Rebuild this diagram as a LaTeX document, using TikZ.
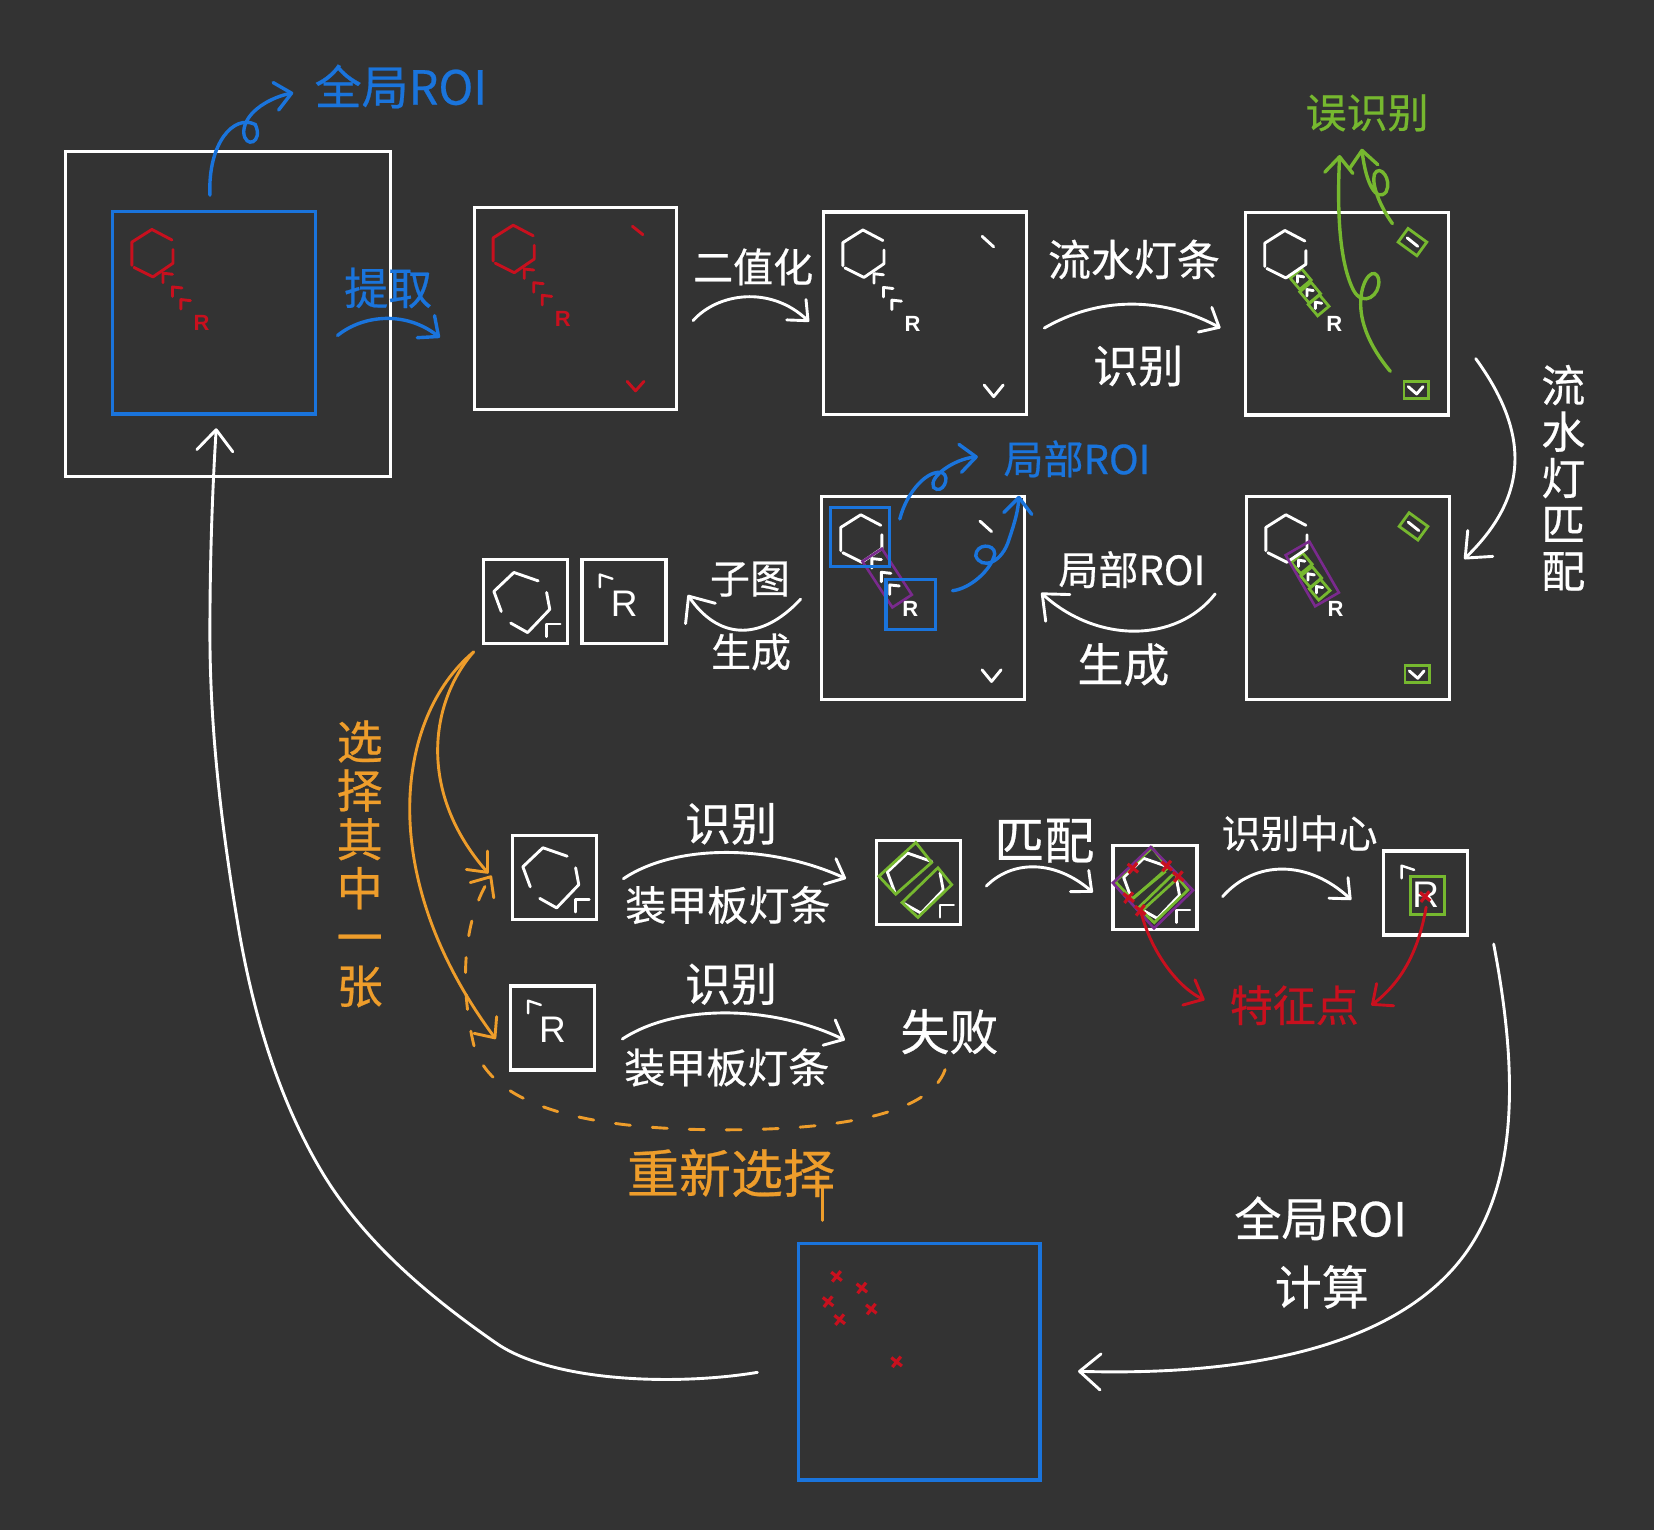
\documentclass[tikz,border=0pt]{standalone}
\usepackage{fontspec}
\setmainfont{Noto Sans CJK SC}[FakeBold=0.5]
\newfontfamily\rfont{Liberation Sans}
\usetikzlibrary{arrows.meta}
\definecolor{bgdark}{HTML}{333333}
\definecolor{roiblue}{HTML}{1A74DC}
\definecolor{hitred}{HTML}{C8101E}
\definecolor{lampgreen}{HTML}{76B82F}
\definecolor{pickorange}{HTML}{EE9D2B}
\definecolor{matchpurple}{HTML}{7A2A8E}
\tikzset{
    main/.style = {draw, inner sep=0pt, outer sep=0pt, line width=3.2pt},
    bigbox/.style = {main, minimum size=202.5pt},
    subbox/.style = {main, minimum size=84pt},
    roibox/.style = {main, draw=roiblue},
    han/.style = {font=\fontsize{#1}{#1}\selectfont, inner sep=0pt},
    curve/.style = {line width=2.9pt, line cap=round, ->},
    bigtip/.style = {>={Straight Barb[length=21pt, width=36pt, round]}},
    lamp/.style = {draw=lampgreen, line width=2.8pt},
    stroke/.style = {line width=2.9pt, line cap=round, line join=round},
    rbold/.style = {font=\rfont\bfseries\fontsize{22}{22}\selectfont, inner sep=0pt},
    rthin/.style = {font=\rfont\fontsize{37}{37}\selectfont, inner sep=0pt},
}
\newcommand{\hexa}[3]{
    \begin{scope}[shift={(#1.north west)}, #2, stroke]
        \draw[stroke] (56,27) -- (37,17) -- (18,29) -- (18,51);
        \draw[stroke] (20,53) -- (38,62) -- (57,49) -- (57,36);
        \foreach \cx/\cy in {52/63, 61/76, 69/88}
            \draw[stroke] (\cx-#3,\cy+#3) -- (\cx-#3,\cy-#3) -- (\cx+#3,\cy-#3+1);
        \node[rbold] (#1r) at (84,106) {R};
    \end{scope}
}
\newcommand{\tails}[2]{
    \begin{scope}[shift={(#1.north west)}, #2]
        \draw[stroke] (150,23) -- (161,33);
        \draw[stroke] (152,164) -- (161,175) -- (170,164);
    \end{scope}
}
\newcommand{\lamps}[1]{
    \begin{scope}[shift={(#1.north west)}]
        \foreach \cx/\cy in {52/63, 61/76, 69/88}
            \draw[lamp, rotate around={-50:(\cx,\cy)}] (\cx-7,\cy-7) rectangle (\cx+7,\cy+7);
    \end{scope}
}
\newcommand{\farlamps}[1]{
    \begin{scope}[shift={(#1.north west)}]
        \draw[lamp, rotate around={-36:(158,28)}] (147,20) rectangle (169,36);
        \draw[stroke, white] (153,24) -- (163,32);
        \draw[lamp] (150,160) rectangle (173,176);
        \draw[stroke, white] (154,165) -- (162,172) -- (168,165);
    \end{scope}
}
\newcommand{\subhex}[1]{
    \begin{scope}[shift={(#1.north west)}]
        \draw[stroke] (17,49) -- (10,30) -- (29,12) -- (52,20);
        \draw[stroke] (60,31) -- (63,47) -- (42,69) -- (26,60);
        \draw[stroke, line width=2.4pt] (60,73) -- (60,61) -- (73,61);
    \end{scope}
}
\newcommand{\subr}[1]{
    \begin{scope}[shift={(#1.north west)}]
        \draw[stroke, line width=2.4pt] (17,26) -- (17,14) -- (29,18);
        \node[rthin] (#1r) at (40,42) {R};
    \end{scope}
}
\newcommand{\subgreen}[1]{
    \begin{scope}[shift={(#1.north west)}]
        \draw[lamp] (37,2) -- (52,21) -- (18,51) -- (2,34) -- cycle;
        \draw[lamp] (58,26) -- (71,42) -- (39,73) -- (24,59) -- cycle;
    \end{scope}
}
\newcommand{\crossmark}[2]{
    \draw[hitred, line width=3.2pt] (#1-5,#2-4) -- (#1+5,#2+4) (#1+4,#2-5) -- (#1-4,#2+5);
}
\begin{document}
\begin{tikzpicture}[x=1.0548pt, y=-1.0548pt, color=white, >={Straight Barb[length=16pt, width=28pt, round]}]
    \useasboundingbox[fill=bgdark] (0,0) rectangle (1568,1450.5);
    \node[main, minimum size=325pt] (glob) at (216,298) {};
    \node[roibox, minimum size=202.5pt] (globroi) at (203,296.5) {};
    \node[bigbox] (orig) at (545.5,292.5) {};
    \node[bigbox] (bin) at (877,297) {};
    \node[bigbox] (detect) at (1277,297.5) {};
    \node[bigbox] (match) at (1278,567) {};
    \node[bigbox] (local) at (875,567) {};
    \node[subbox] (subhexa) at (498,570.5) {};
    \node[subbox] (subr) at (591.5,570.5) {};
    \node[subbox] (ahexa) at (525.5,831.5) {};
    \node[subbox] (aplate) at (871,836.5) {};
    \node[subbox] (apts) at (1095,841.5) {};
    \node[subbox] (acenter) at (1351.5,846.5) {};
    \node[subbox] (rtry) at (523.5,974.5) {};
    \node[roibox, minimum width=241.5pt, minimum height=236.3pt] (result) at (871.5,1291) {};

    \hexa{globroi}{hitred}{4.5}
    \hexa{orig}{hitred}{4.5}
    \begin{scope}[shift={(orig.north west)}, hitred]
        \draw[stroke] (150,18) -- (160,26);
        \draw[stroke] (145,165) -- (153,174) -- (161,165);
    \end{scope}
    \hexa{bin}{white}{4.5}
    \tails{bin}{white}
    \lamps{detect}
    \hexa{detect}{white}{3}
    \farlamps{detect}
    \lamps{match}
    \hexa{match}{white}{3}
    \farlamps{match}
    \begin{scope}[shift={(match.north west)}]
        \draw[draw=matchpurple, line width=2.6pt, rotate around={-60:(62,73)}] (34,60) rectangle (90,86);
    \end{scope}
    \hexa{local}{white}{4.5}
    \tails{local}{white}
    \begin{scope}[shift={(local.north west)}]
        \draw[draw=matchpurple, line width=2.6pt, rotate around={-57:(62,77)}] (36,66) rectangle (88,88);
    \end{scope}
    \draw[draw=roiblue, line width=3.2pt] (787,481) rectangle (843,537);
    \draw[draw=roiblue, line width=3.2pt] (840,549) rectangle (887,597);

    \subhex{subhexa}
    \subr{subr}
    \subhex{ahexa}
    \subhex{aplate}
    \subgreen{aplate}
    \subhex{apts}
    \subgreen{apts}
    \subr{acenter}
    \subr{rtry}
    \draw[draw=matchpurple, line width=2.6pt] (1091,803) -- (1131,844) -- (1094,880) -- (1055,837) -- cycle;
    \draw[lamp] (1105,826) -- (1072,853);
    \draw[lamp] (1117,832) -- (1083,863);
    \draw[lamp] (1337,831) rectangle (1369,867);
    \foreach \px/\py in {1074/823, 1106/821, 1117/831, 1070/851, 1081/863, 1351/850, 793/1210, 817/1221, 785/1234, 826/1241, 796/1251, 850/1291}
        {\crossmark{\px}{\py}}

    \node[han=47, roiblue] (tglob) at (380,82) {全局ROI};
    \node[han=44, roiblue] (textract) at (368,273) {提取};
    \node[han=40] (tbin) at (714,253) {二值化};
    \node[han=43] (tflow) at (1075,246) {流水灯条};
    \node[han=45] (tdet) at (1079,347) {识别};
    \node[han=41, lampgreen] (twrong) at (1296,107) {误识别};
    \node[font=\fontsize{44}{46.4}\selectfont, inner sep=0pt, align=center] (tmatchv) at (1482,453) {流\\水\\灯\\匹\\配};
    \node[han=40, roiblue] (tlocal) at (1021,435) {局部ROI};
    \node[han=40] (tlocalb) at (1073,540) {局部ROI};
    \node[han=46] (tgen) at (1065,630) {生成};
    \node[han=40] (tsub) at (711,549) {子图};
    \node[han=40] (tgenb) at (712,618) {生成};
    \node[font=\fontsize{46}{48.9}\selectfont, inner sep=0pt, align=center, pickorange] (tpick) at (341,819) {选\\择\\其\\中\\一\\张};
    \node[han=46] (tdeta) at (693,781) {识别};
    \node[han=41] (tarma) at (690,858) {装甲板灯条};
    \node[han=46] (tdetb) at (693,933) {识别};
    \node[han=41] (tarmb) at (689,1012) {装甲板灯条};
    \node[han=49] (tfail) at (900,978) {失败};
    \node[han=52, pickorange] (tretry) at (693,1112) {重新选择};
    \node[han=50] (tpair) at (990,797) {匹配};
    \node[han=39] (tcenter) at (1232,790) {识别中心};
    \node[han=43, hitred] (tfeat) at (1227,953) {特征点};
    \node[han=47] (tcalc) at (1252,1155) {全局ROI};
    \node[han=47] (tcalcb) at (1253,1220) {计算};

    \foreach \n/\px/\py in {a1/199/185, a2/278/88, b1/320/318, b2/417/320, c1/657/304, c2/767/305,
        d1/990/311, d2/1157/311, e1/1399/340, e2/1388/530, f1/1318/352, f2/1270/147, g1/1320/212, g2/1291/141,
        h1/853/492, h2/927/433, i1/903/560, i2/966/470, j1/1152/563, j2/987/562, k1/759/568, k2/652/564,
        l1/449/618, l2/463/828, l3/470/985, m1/896/1014, m2/466/830, n1/591/833, n2/802/833,
        o1/590/985, o2/801/986, p1/935/840, p2/1036/846, q1/1159/850, q2/1281/853,
        r1/1081/862, r2/1142/948, s1/1352/860, s2/1300/953, u1/1416/895, u2/1022/1300, v1/718/1301, v2/205/406,
        w1/780/1125, w2/780/1157}
        {\coordinate (\n) at (\px,\py);}

    \draw[curve, roiblue, line width=3.4pt] (a1) .. controls (197,135) and (222,108) .. (242,118) .. controls (250,135) and (232,142) .. (231,125) .. controls (232,105) and (258,92) .. (a2);
    \draw[curve, roiblue, line width=3.4pt] (b1) .. controls (345,298) and (385,295) .. (b2);
    \draw[curve] (c1) .. controls (680,278) and (730,270) .. (c2);
    \draw[curve] (d1) .. controls (1040,282) and (1100,280) .. (d2);
    \draw[curve, bigtip] (e1) .. controls (1450,410) and (1450,470) .. (e2);
    \draw[curve, lampgreen, line width=3.4pt] (f1) .. controls (1298,328) and (1289,305) .. (1290,285) .. controls (1291,262) and (1304,252) .. (1307,265) .. controls (1309,280) and (1292,292) .. (1283,275) .. controls (1268,245) and (1268,190) .. (f2);
    \draw[curve, lampgreen, line width=3.4pt] (g1) .. controls (1308,195) and (1300,175) .. (1303,165) .. controls (1308,155) and (1320,170) .. (1314,182) .. controls (1305,192) and (1295,175) .. (g2);
    \draw[curve, roiblue, line width=3.4pt] (h1) .. controls (860,465) and (880,445) .. (893,448) .. controls (902,452) and (893,470) .. (885,462) .. controls (880,452) and (905,435) .. (h2);
    \draw[curve, roiblue, line width=3.4pt] (i1) .. controls (920,558) and (940,540) .. (943,525) .. controls (943,515) and (925,515) .. (925,527) .. controls (930,540) and (950,535) .. (957,510) .. controls (962,495) and (965,485) .. (i2);
    \draw[curve, bigtip] (j1) .. controls (1115,610) and (1040,610) .. (j2);
    \draw[curve, bigtip] (k1) .. controls (720,610) and (680,605) .. (k2);
    \draw[curve, pickorange] (l1) .. controls (408,665) and (395,750) .. (l2);
    \draw[curve, pickorange] (l1) .. controls (375,680) and (355,830) .. (l3);
    \draw[curve, pickorange, dash pattern=on 15pt off 22pt] (m1) .. controls (880,1060) and (780,1072) .. (676,1071) .. controls (560,1070) and (465,1050) .. (449,990) .. controls (435,930) and (440,870) .. (m2);
    \draw[curve] (n1) .. controls (640,800) and (730,800) .. (n2);
    \draw[curve] (o1) .. controls (640,952) and (730,952) .. (o2);
    \draw[curve] (p1) .. controls (960,815) and (1000,815) .. (p2);
    \draw[curve] (q1) .. controls (1190,815) and (1240,815) .. (q2);
    \draw[curve, hitred] (r1) .. controls (1090,900) and (1115,935) .. (r2);
    \draw[curve, hitred] (s1) .. controls (1345,900) and (1330,930) .. (s2);
    \draw[curve, bigtip] (u1) .. controls (1440,1020) and (1440,1130) .. (1380,1200) .. controls (1320,1270) and (1200,1305) .. (u2);
    \draw[curve, bigtip] (v1) .. controls (640,1314) and (523,1310) .. (470,1273) .. controls (408,1230) and (347,1179) .. (307,1114) .. controls (265,1045) and (241,964) .. (227,885) .. controls (211,792) and (199,695) .. (199,600) .. controls (199,535) and (201,470) .. (v2);
    \draw[stroke, pickorange] (w1) -- (w2);
\end{tikzpicture}
\end{document}
